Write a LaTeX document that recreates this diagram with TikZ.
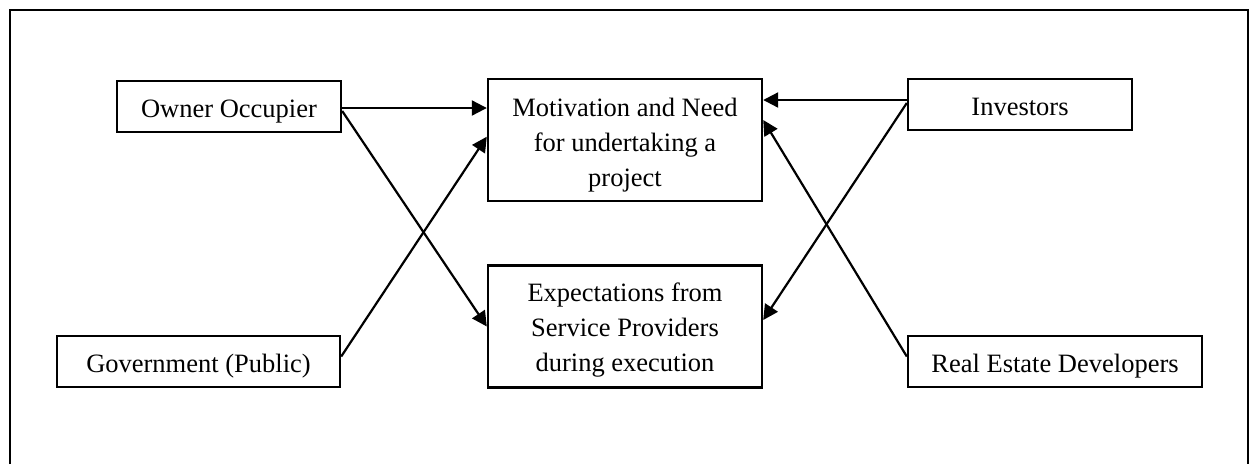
\documentclass[tikz,border=0pt]{standalone}
\usepackage{fontspec}
\setmainfont{Liberation Serif}
\usetikzlibrary{arrows.meta}
\begin{document}
\begin{tikzpicture}[x=1pt,y=-1pt,
  every node/.style={font=\fontsize{26.5}{35}\selectfont},
  onebox/.style={draw,line width=2.4pt,inner sep=0pt,text height=22pt,text depth=0pt},
  tallbox/.style={draw,line width=2.4pt,inner sep=0pt,align=center,
    minimum width=274pt,minimum height=122pt},
  link/.style={line width=2.2pt,-{Triangle[length=15pt,width=15pt]}}]
\useasboundingbox (0,0) rectangle (1255,464);
% outer frame (runs off the lower edge)
\draw[line width=2.6pt] (10,464) -- (10,10) -- (1248,10) -- (1248,464);

% stakeholders
\node[onebox,minimum width=224pt,minimum height=51pt] (own) at (229,106.5) {Owner Occupier};
\node[onebox,minimum width=283pt,minimum height=51pt] (gov) at (198.5,361.5) {Government (Public)};
\node[onebox,minimum width=224pt,minimum height=51pt] (inv) at (1020,104.5) {Investors};
\node[onebox,minimum width=294pt,minimum height=51pt] (red) at (1055,361.5) {Real Estate Developers};

% central boxes (text block set by its last baseline)
\node[tallbox,text height=92pt,text depth=0pt] (mot) at (625,140)
  {Motivation and Need\\for undertaking a\\project};
\node[tallbox,text height=89pt,text depth=0pt] (exp) at (625,326.5)
  {Expectations from\\Service Providers\\during execution};

% connectors
\draw[link] ([yshift=-1.5pt]own.east) -- ([yshift=-1.5pt]mot.west |- own.east);
\draw[link] ([yshift=-4.5pt]own.east) -- (exp.west);
\draw[link] ([yshift=5pt]gov.east) -- ([yshift=3.3pt]mot.west);
\draw[link] ([yshift=4.5pt]inv.west) -- ([yshift=4.5pt]mot.east |- inv.west);
\draw[link] ([yshift=1.5pt]inv.west) -- ([yshift=6.5pt]exp.east);
\draw[link] ([yshift=5pt]red.west) -- ([yshift=20pt]mot.east);
\end{tikzpicture}
\end{document}
